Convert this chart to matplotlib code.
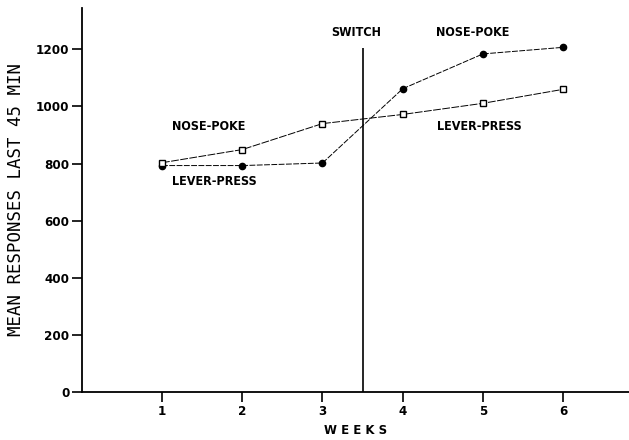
import matplotlib
matplotlib.use("Agg")
import matplotlib.pyplot as plt

weeks = [1, 2, 3, 4, 5, 6]
circles = [793, 793, 802, 1062, 1184, 1207]   # lever-press then nose-poke
squares = [803, 849, 940, 972, 1011, 1060]    # nose-poke then lever-press
switch_week = 3.5
switch_top = 1205
y_ticks = [0, 200, 400, 600, 800, 1000, 1200]

fig = plt.figure(figsize=(6.29, 4.40), dpi=100)
ax = fig.add_axes([0.130, 0.109, 0.870, 0.873])

ax.plot(weeks, circles, color='black', lw=0.7, marker='o', ms=4.5,
        mfc='black', mec='black', dashes=(6, 1.5))
ax.plot(weeks, squares, color='black', lw=0.7, marker='s', ms=5,
        mfc='white', mec='black', dashes=(8, 1.5))
ax.vlines(switch_week, 0, switch_top, color='black', lw=1.2)

ax.set_xlim(0, 6.82)
ax.set_ylim(0, 1345)
ax.set_xticks(weeks)
ax.set_yticks(y_ticks)
fp = dict(family='DejaVu Sans', stretch='condensed', weight='bold', fontsize=9.5)
ax.set_xticklabels([str(w) for w in weeks], **fp)
ax.set_yticklabels([str(v) for v in y_ticks], **fp)
ax.tick_params(direction='out', length=7, width=1.2, pad=2)
for s in ['top', 'right']:
    ax.spines[s].set_visible(False)
for s in ['left', 'bottom']:
    ax.spines[s].set_linewidth(1.3)

ax.set_ylabel('MEAN RESPONSES LAST 45 MIN', family='DejaVu Sans Mono', fontsize=12.5, labelpad=8)
ax.set_xlabel('W E E K S', family='DejaVu Sans', weight='bold', fontsize=8.5, labelpad=5)

tk = dict(family='DejaVu Sans', stretch='condensed', weight='bold', fontsize=9, va='center')
ax.text(1.12, 930, 'NOSE-POKE', ha='left', **tk)
ax.text(1.12, 737, 'LEVER-PRESS', ha='left', **tk)
ax.text(3.42, 1260, 'SWITCH', ha='center', **tk)
ax.text(4.41, 1260, 'NOSE-POKE', ha='left', **tk)
ax.text(4.43, 930, 'LEVER-PRESS', ha='left', **tk)

fig.savefig('out.png', dpi=100)
